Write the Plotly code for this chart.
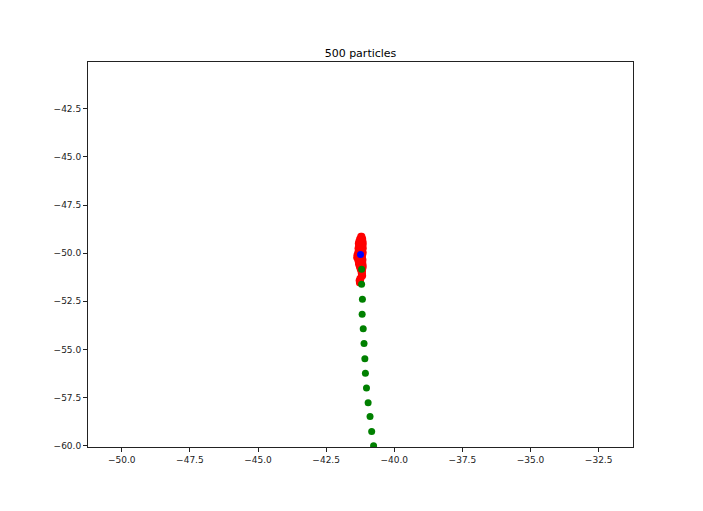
import plotly.graph_objects as go

# ---- data ----
title_text = "500 particles"

# particle cloud (red)
red_rows_y = [-49.12, -49.25, -49.38, -49.50, -49.62, -49.74, -49.86, -49.98, -50.10,
              -50.22, -50.34, -50.46, -50.58, -50.70, -50.82, -50.94, -51.06, -51.18,
              -51.30, -51.42, -51.54]
red_rows_x = [
    [-41.23, -41.19],
    [-41.27, -41.21, -41.16],
    [-41.30, -41.25, -41.19, -41.15],
    [-41.32, -41.27, -41.22, -41.17, -41.14],
    [-41.31, -41.26, -41.20, -41.15],
    [-41.33, -41.28, -41.23, -41.18, -41.14],
    [-41.32, -41.26, -41.21, -41.16],
    [-41.34, -41.29, -41.24, -41.19, -41.14],
    [-41.37, -41.31, -41.26, -41.21, -41.16],
    [-41.38, -41.33, -41.27, -41.22, -41.17],
    [-41.34, -41.29, -41.24, -41.19, -41.15],
    [-41.32, -41.26, -41.21, -41.16],
    [-41.31, -41.25, -41.20, -41.15],
    [-41.28, -41.23, -41.18, -41.14],
    [-41.25, -41.20, -41.16],
    [-41.22, -41.17],
    [-41.21, -41.17],
    [-41.20, -41.16],
    [-41.26, -41.22],
    [-41.29, -41.24],
    [-41.28, -41.25],
]

# true trajectory (green)
green_x = [-41.20, -41.20, -41.17, -41.18, -41.14, -41.11, -41.08, -41.06, -41.02,
           -40.96, -40.89, -40.83, -40.76]
green_y = [-50.83, -51.61, -52.40, -53.17, -53.93, -54.69, -55.48, -56.24, -57.00,
           -57.77, -58.49, -59.27, -60.01]

# estimate (blue)
blue_x = [-41.24]
blue_y = [-50.07]

x_ticks = [-50.0, -47.5, -45.0, -42.5, -40.0, -37.5, -35.0, -32.5]
y_ticks = [-60.0, -57.5, -55.0, -52.5, -50.0, -47.5, -45.0, -42.5]
half_window = 10.0

# ---- build ----
red_x, red_y = [], []
for yv, xs in zip(red_rows_y, red_rows_x):
    for xv in xs:
        red_x.append(xv)
        red_y.append(yv)

fig = go.Figure()
fig.add_trace(go.Scatter(x=red_x, y=red_y, mode="markers",
                         marker=dict(color="#ff0000", size=7, line=dict(width=0)),
                         showlegend=False, hoverinfo="skip"))
fig.add_trace(go.Scatter(x=green_x, y=green_y, mode="markers",
                         marker=dict(color="#008000", size=7, line=dict(width=0)),
                         showlegend=False, hoverinfo="skip"))
fig.add_trace(go.Scatter(x=blue_x, y=blue_y, mode="markers",
                         marker=dict(color="#0000ff", size=7, line=dict(width=0)),
                         showlegend=False, hoverinfo="skip"))

axis_common = dict(showgrid=False, zeroline=False, showline=True, linecolor="#222222",
                   linewidth=1, mirror=True, ticks="outside", ticklen=4, tickwidth=1,
                   tickcolor="#222222", tickfont=dict(family="DejaVu Sans", size=9, color="#222222"),
                   tickformat=".1f")

fig.update_layout(
    width=703, height=511,
    margin=dict(l=80, r=78, t=54, b=72),
    paper_bgcolor="white", plot_bgcolor="white",
    title=dict(text=title_text, x=0.5, xanchor="center", xref="paper",
               y=1, yref="paper", yanchor="bottom", pad=dict(b=5),
               font=dict(family="DejaVu Sans", size=11, color="black")),
    xaxis=dict(range=[blue_x[0] - half_window, blue_x[0] + half_window],
               tickvals=x_ticks, **axis_common),
    yaxis=dict(range=[blue_y[0] - half_window, blue_y[0] + half_window],
               tickvals=y_ticks, **axis_common),
)

fig.write_html("out.html")
